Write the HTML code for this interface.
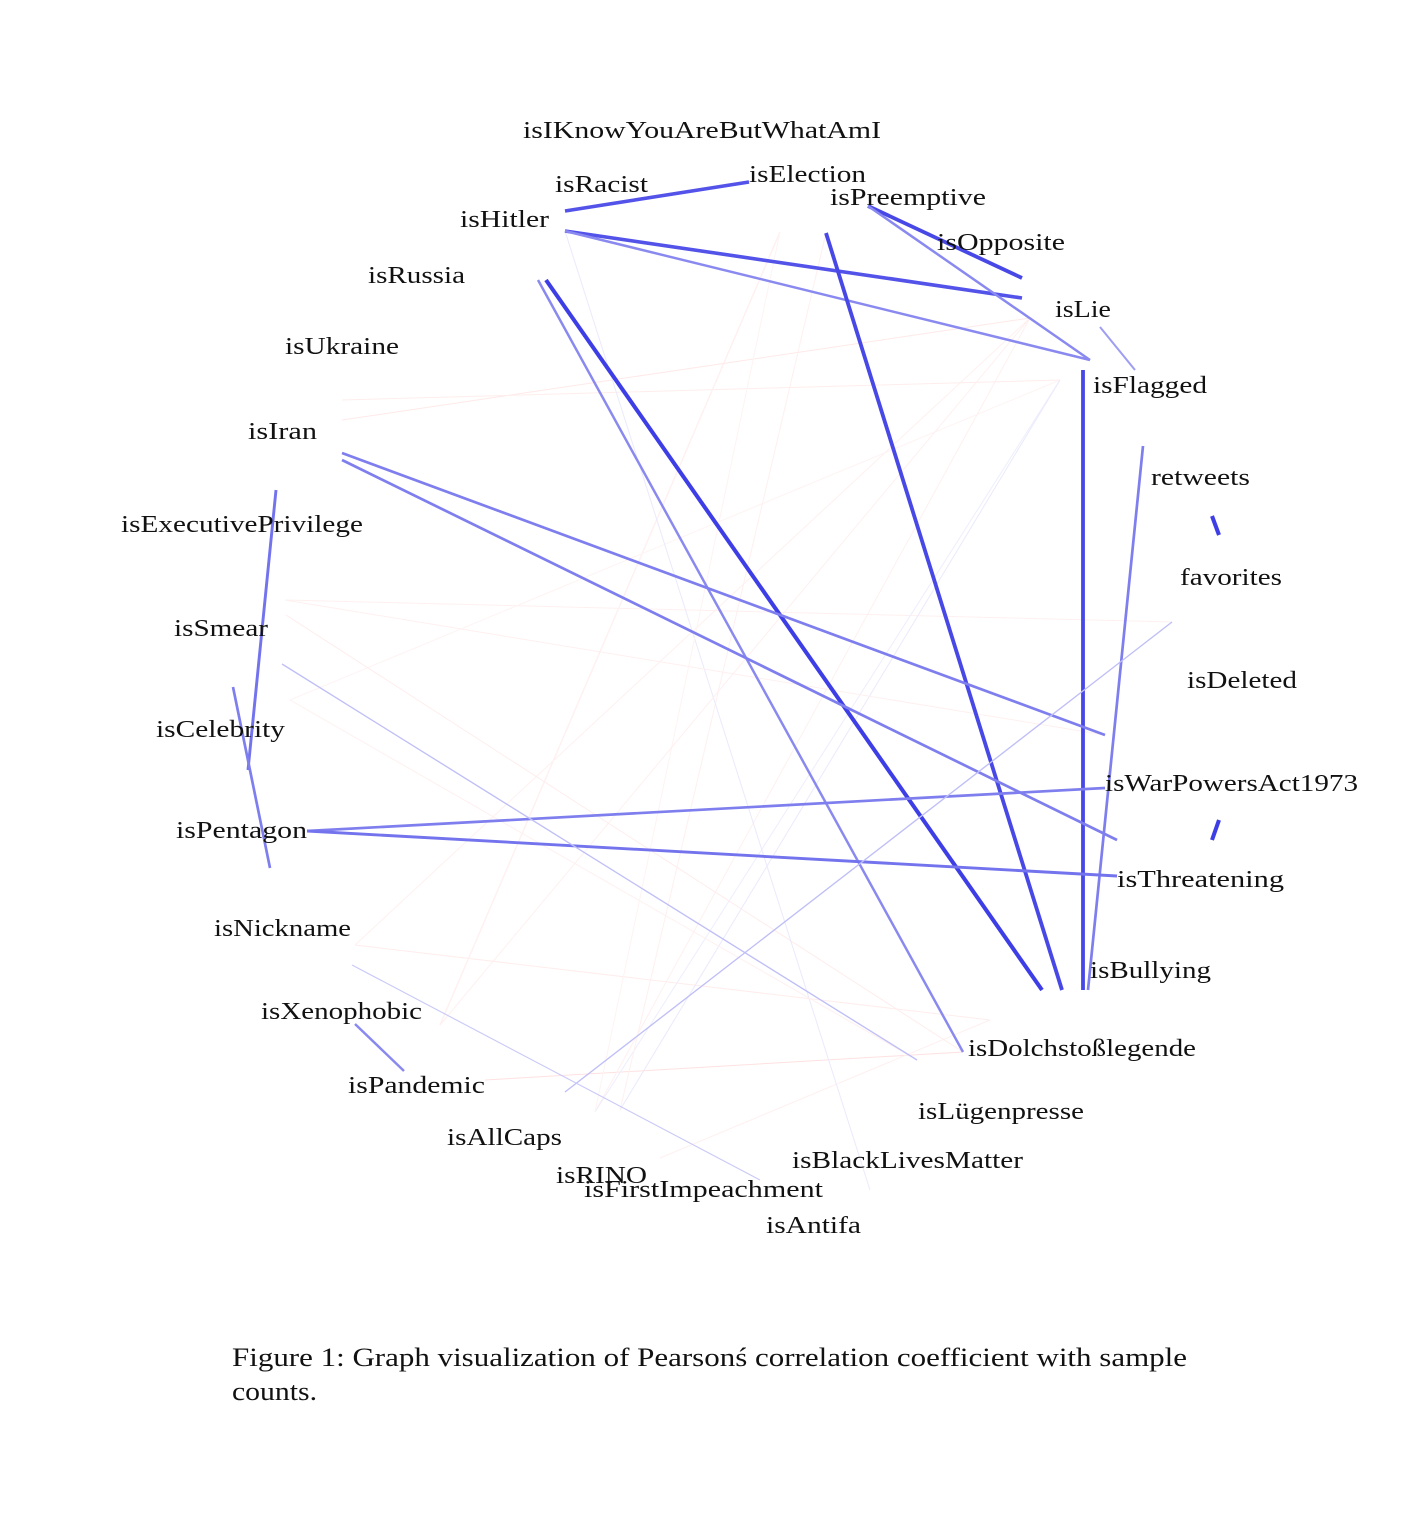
<!DOCTYPE html>
<html><head><meta charset="utf-8"><style>
html,body{margin:0;padding:0;background:#fff;}
svg{display:block;}
text{font-family:"Liberation Serif","DejaVu Serif",serif;fill:#111;}
</style></head><body>
<svg id="chart" width="1428" height="1539" viewBox="0 0 1428 1539" xmlns="http://www.w3.org/2000/svg">
<g id="edges"></g>
<g id="labels"></g>
<text x="232" y="1366" font-size="26" textLength="955" lengthAdjust="spacingAndGlyphs">Figure 1: Graph visualization of Pearsonś correlation coefficient with sample</text>
<text x="232" y="1400" font-size="26" textLength="85" lengthAdjust="spacingAndGlyphs">counts.</text>
</svg>
<script>
const labelNames = ["isIKnowYouAreButWhatAmI","isElection","isRacist","isPreemptive","isHitler","isOpposite","isRussia","isLie","isUkraine","isFlagged","isIran","retweets","isExecutivePrivilege","favorites","isSmear","isDeleted","isCelebrity","isWarPowersAct1973","isPentagon","isThreatening","isNickname","isBullying","isXenophobic","isDolchstoßlegende","isPandemic","isLügenpresse","isAllCaps","isBlackLivesMatter","isRINO","isFirstImpeachment","isAntifa"];
const labelX = [523,749,555,830,460,937,368,1055,285,1093,248,1151,121,1180,174,1187,156,1105,176,1117,214,1090,261,968,348,918,447,792,556,584,766];
const labelY = [130,174,184,197,219,242,275,309,346,385,431,477,524,577,628,680,729,783,830,879,928,970,1011,1048,1085,1111,1137,1160,1175,1189,1225];
const labelW = [358,117,93,156,89,128,97,56,114,114,69,99,242,102,94,110,129,253,131,167,137,121,161,228,137,166,115,231,91,239,95];

const anchors = {
  isRacist:[565,211], isIKnowYouAreButWhatAmI:[749,182], isHitler:[565,231], isPreemptive:[868,206],
  isOpposite:[1022,278], isLie:[1022,298], isFlagged:[1090,360], isElection:[826,233],
  isRussia:[546,280], isUkraine:[538,280], isBullying:[1062,990], isAntifa:[1042,990],
  isDolchstoßlegende:[963,1052], isFlaggedLow:[1083,370], isBullying2:[1083,990],
  retweets:[1143,446], isBlackLivesMatter:[1088,990], favoritesA:[1212,516], favoritesB:[1219,535],
  isIran:[342,453], isIran2:[342,460], isWarPowersAct1973:[1105,735], isThreatening:[1117,840],
  isExecutivePrivilege:[276,490], isCelebrity:[248,770], isSmear:[233,687], isPentagonLow:[270,868],
  isPentagon:[307,831], isWarPowers2:[1105,788], isThreatening2:[1117,876],
  isDeletedA:[1212,840], isDeletedB:[1219,820], isSmear2:[282,664], isLügenpresse:[917,1060],
  isXenophobic:[355,1024], isPandemic:[404,1071], isAllCaps:[565,1092], favorites:[1172,622],
  isNickname:[352,965], isFirstImpeachment:[760,1180], isLieB:[1100,327], isFlaggedB:[1135,370],
  isPandemicR:[485,1080], isRINO:[660,1158], isUkraineL:[342,420], isRussiaL:[342,400],
  isAllCaps2:[595,1112], isNickname2:[355,945], isExec2:[285,600], isCel2:[290,700],
  isIKnow2:[780,232], isLie2:[1030,318], isFlagged2:[1060,380], isBullying3:[990,1020],
  isXeno2:[440,1025], isSmear3:[286,615], isAntifa2:[870,1190], isRINO2:[620,1110]
};

const edgeFrom = ["isRacist","isHitler","isHitler","isPreemptive","isPreemptive","isLieB","isElection","isRussia","isUkraine","isFlaggedLow","retweets","favoritesA","isIran","isIran2","isExecutivePrivilege","isSmear","isPentagon","isPentagon","isDeletedA","isSmear2","isXenophobic","isAllCaps","isNickname"];
const edgeTo   = ["isIKnowYouAreButWhatAmI","isLie","isFlagged","isOpposite","isFlagged","isFlaggedB","isBullying","isAntifa","isDolchstoßlegende","isBullying2","isBlackLivesMatter","favoritesB","isWarPowersAct1973","isThreatening","isCelebrity","isPentagonLow","isWarPowers2","isThreatening2","isDeletedB","isLügenpresse","isPandemic","favorites","isFirstImpeachment"];
const edgeR    = [-0.8,-0.8,-0.55,-0.85,-0.55,-0.45,-0.85,-0.9,-0.55,-0.85,-0.6,-0.9,-0.6,-0.6,-0.65,-0.6,-0.6,-0.65,-0.9,-0.3,-0.55,-0.3,-0.25];

const faintFrom = ["isPandemicR","isUkraineL","isRussiaL","isIKnow2","isRINO","isAllCaps2","isNickname2","isExec2","isCel2","isLie2","isFlagged2","isXeno2","isSmear3","isRINO2","isElection","isHitler","isExec2","isCel2","isAllCaps2","isXeno2"];
const faintTo  = ["isDolchstoßlegende","isLie2","isFlagged2","isXeno2","isBullying3","isLie2","isBullying3","favorites","isFlagged2","isNickname2","isAllCaps2","isIKnow2","isDolchstoßlegende","isFlagged2","isRINO2","isAntifa2","isWarPowersAct1973","isLügenpresse","isIKnow2","isLie2"];
const faintR   = [0.2,0.15,0.12,0.25,0.1,0.1,0.12,0.1,0.08,0.1,-0.08,0.08,0.12,-0.1,0.1,-0.1,0.1,0.1,0.08,0.1];

const NS = "http://www.w3.org/2000/svg";
const eg = document.getElementById("edges");
function colorFor(r){
  const a = Math.min(1, Math.abs(r));
  if (r < 0) {
    const c = Math.round(255 - a*215);
    return "rgb(" + c + "," + c + "," + Math.round(255 - a*28) + ")";
  }
  const g = Math.round(255 - a*150);
  return "rgb(255," + g + "," + g + ")";
}
function drawEdge(f, t, r, cls){
  const p = anchors[f], q = anchors[t];
  const ln = document.createElementNS(NS, "line");
  ln.setAttribute("x1", p[0]); ln.setAttribute("y1", p[1]);
  ln.setAttribute("x2", q[0]); ln.setAttribute("y2", q[1]);
  ln.setAttribute("stroke", colorFor(r));
  ln.setAttribute("stroke-width", Math.max(1, Math.abs(r) * 4.5));
  
  
  eg.appendChild(ln);
}
for (let i = 0; i < faintFrom.length; i++) drawEdge(faintFrom[i], faintTo[i], faintR[i], "faint-edge");
for (let i = 0; i < edgeFrom.length; i++) drawEdge(edgeFrom[i], edgeTo[i], edgeR[i], "edge");

const lg = document.getElementById("labels");
for (let i = 0; i < labelNames.length; i++) {
  const t = document.createElementNS(NS, "text");
  t.setAttribute("x", labelX[i]);
  t.setAttribute("y", labelY[i] + 8);
  t.setAttribute("font-size", "24");
  t.setAttribute("textLength", labelW[i]);
  t.setAttribute("lengthAdjust", "spacingAndGlyphs");
  t.textContent = labelNames[i];
  
  
  lg.appendChild(t);
}
</script>
</body></html>
